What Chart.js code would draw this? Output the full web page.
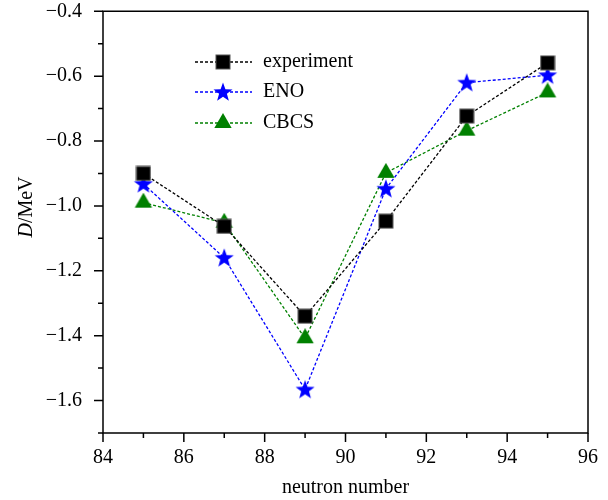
<!DOCTYPE html>
<html>
<head>
<meta charset="utf-8">
<script src="https://cdn.jsdelivr.net/npm/chart.js@4/dist/chart.umd.min.js"></script>
<style>
  html, body { margin: 0; padding: 0; background: #fff; }
  canvas { display: block; }
</style>
</head>
<body>
<canvas id="c" width="608" height="500"></canvas>
<script>
// ---- data ----
const neutronNumbers = [85, 87, 89, 91, 93, 95];
const experiment = [-0.900, -1.063, -1.340, -1.047, -0.723, -0.559];
const eno        = [-0.932, -1.160, -1.566, -0.947, -0.620, -0.597];
const cbcs       = [-0.990, -1.052, -1.408, -0.898, -0.768, -0.650];
const seriesNames = ['experiment', 'ENO', 'CBCS'];
const xTickValues = [84, 86, 88, 90, 92, 94, 96];
const yTickValues = [-1.6, -1.4, -1.2, -1.0, -0.8, -0.6, -0.4];
const xMinorValues = [85, 87, 89, 91, 93, 95];
const yMinorValues = [-1.7, -1.5, -1.3, -1.1, -0.9, -0.7, -0.5];

const FONT = "'Liberation Serif', 'Times New Roman', serif";

// ---- marker images ----
function makeSquare() {
  const c = document.createElement('canvas');
  c.width = 16; c.height = 16;
  const g = c.getContext('2d');
  g.fillStyle = '#555'; g.fillRect(0.5, 0.5, 15, 15);
  g.fillStyle = '#000'; g.fillRect(1.5, 1.5, 13, 13);
  return c;
}
function makeStar() {
  const c = document.createElement('canvas');
  c.width = 22; c.height = 22;
  const g = c.getContext('2d');
  const cx = 11, cy = 11.6, R = 10, r = 4.1;
  g.beginPath();
  for (let i = 0; i < 10; i++) {
    const a = -Math.PI / 2 + i * Math.PI / 5;
    const rr = i % 2 === 0 ? R : r;
    const px = cx + rr * Math.cos(a), py = cy + rr * Math.sin(a);
    if (i === 0) g.moveTo(px, py); else g.lineTo(px, py);
  }
  g.closePath();
  g.fillStyle = '#0000ff';
  g.fill();
  return c;
}
function makeTriangle() {
  const c = document.createElement('canvas');
  c.width = 20; c.height = 20;
  const g = c.getContext('2d');
  const cx = 10, cy = 10, R = 10;
  g.beginPath();
  g.moveTo(cx, cy - R);
  g.lineTo(cx + R * Math.sin(Math.PI * 2 / 3), cy + R * 0.5);
  g.lineTo(cx - R * Math.sin(Math.PI * 2 / 3), cy + R * 0.5);
  g.closePath();
  g.fillStyle = '#008000';
  g.fill();
  return c;
}
const markers = [makeSquare(), makeStar(), makeTriangle()];
const colors = ['#000000', '#0000ff', '#008000'];
const values = [experiment, eno, cbcs];

const datasets = seriesNames.map((name, i) => ({
  label: name,
  data: neutronNumbers.map((n, k) => ({ x: n, y: values[i][k] })),
  showLine: true,
  borderColor: colors[i],
  backgroundColor: colors[i],
  borderWidth: 1.3,
  borderDash: [3, 2],
  pointStyle: markers[i],
  pointRadius: 10,
  pointHoverRadius: 10,
  order: i
}));

// ---- frame, ticks, y title, legend ----
const framePlugin = {
  id: 'frame',
  afterDraw(chart) {
    const ctx = chart.ctx;
    const xs = chart.scales.x, ys = chart.scales.y;
    const { left, right, top, bottom } = chart.chartArea;
    ctx.save();
    ctx.strokeStyle = '#000';
    ctx.lineWidth = 1.5;
    ctx.setLineDash([]);
    ctx.beginPath();
    ctx.rect(left, top, right - left, bottom - top);
    ctx.stroke();
    // y ticks (outward, left)
    ctx.beginPath();
    yTickValues.forEach(v => {
      const p = ys.getPixelForValue(v);
      ctx.moveTo(left - 9, p); ctx.lineTo(left, p);
    });
    yMinorValues.forEach(v => {
      const p = ys.getPixelForValue(v);
      ctx.moveTo(left - 5, p); ctx.lineTo(left, p);
    });
    // x ticks (outward, down)
    xTickValues.forEach(v => {
      const p = xs.getPixelForValue(v);
      ctx.moveTo(p, bottom); ctx.lineTo(p, bottom + 9);
    });
    xMinorValues.forEach(v => {
      const p = xs.getPixelForValue(v);
      ctx.moveTo(p, bottom); ctx.lineTo(p, bottom + 5);
    });
    ctx.stroke();

    // y axis title: italic D + /MeV, rotated
    ctx.translate(27, 207);
    ctx.rotate(-Math.PI / 2);
    ctx.fillStyle = '#000';
    ctx.textBaseline = 'middle';
    const fi = 'italic 20px ' + FONT, fn = '20px ' + FONT;
    ctx.font = fi; const wD = ctx.measureText('D').width;
    ctx.font = fn; const wR = ctx.measureText('/MeV').width;
    const total = wD + wR;
    ctx.textAlign = 'left';
    ctx.font = fi; ctx.fillText('D', -total / 2, 0);
    ctx.font = fn; ctx.fillText('/MeV', -total / 2 + wD, 0);
    ctx.restore();

    // legend
    ctx.save();
    const rows = [62, 92, 123];
    const x0 = 195, x1 = 252, xm = 223, xt = 263;
    seriesNames.forEach((name, i) => {
      const y = rows[i];
      ctx.strokeStyle = colors[i];
      ctx.lineWidth = 1.3;
      ctx.setLineDash([3, 2]);
      ctx.beginPath();
      ctx.moveTo(x0, y); ctx.lineTo(x1, y);
      ctx.stroke();
      const m = markers[i];
      ctx.drawImage(m, xm - m.width / 2, y - m.height / 2);
      ctx.fillStyle = '#000';
      ctx.font = '20px ' + FONT;
      ctx.textAlign = 'left';
      ctx.textBaseline = 'middle';
      ctx.fillText(name, xt, y);
    });
    ctx.restore();
  }
};

const fmt = v => {
  const s = Number(v).toFixed(1);
  return s.replace('-', '\u2212');
};

new Chart(document.getElementById('c'), {
  type: 'scatter',
  data: { datasets },
  options: {
    responsive: false,
    devicePixelRatio: 1,
    animation: false,
    layout: { padding: { top: 10, right: 20, left: 0, bottom: 0 } },
    plugins: { legend: { display: false }, tooltip: { enabled: false } },
    scales: {
      x: {
        type: 'linear', min: 84, max: 96,
        afterBuildTicks(s) { s.ticks = xTickValues.map(v => ({ value: v })); },
        afterFit(s) { s.height = 67; s.paddingLeft = 0; s.paddingRight = 0; s.paddingTop = 0; s.paddingBottom = 0; },
        grid: { display: false, drawTicks: false, tickLength: 0 },
        border: { display: false },
        ticks: {
          padding: 15, color: '#000',
          font: { family: FONT, size: 20, lineHeight: 1 },
          maxRotation: 0, autoSkip: false,
          callback: v => String(v)
        },
        title: {
          display: true, text: 'neutron number', color: '#000',
          font: { family: FONT, size: 20, lineHeight: 1 },
          padding: { top: 0, bottom: 2 }
        }
      },
      y: {
        type: 'linear', min: -1.7, max: -0.4,
        afterBuildTicks(s) { s.ticks = yTickValues.map(v => ({ value: v })); },
        afterFit(s) { s.width = 103; s.paddingTop = 0; s.paddingBottom = 0; s.paddingLeft = 0; s.paddingRight = 0; },
        grid: { display: false, drawTicks: false, tickLength: 0 },
        border: { display: false },
        ticks: {
          padding: 21, color: '#000',
          font: { family: FONT, size: 20, lineHeight: 1 },
          autoSkip: false,
          callback: v => fmt(v)
        }
      }
    }
  },
  plugins: [framePlugin]
});
</script>
</body>
</html>
